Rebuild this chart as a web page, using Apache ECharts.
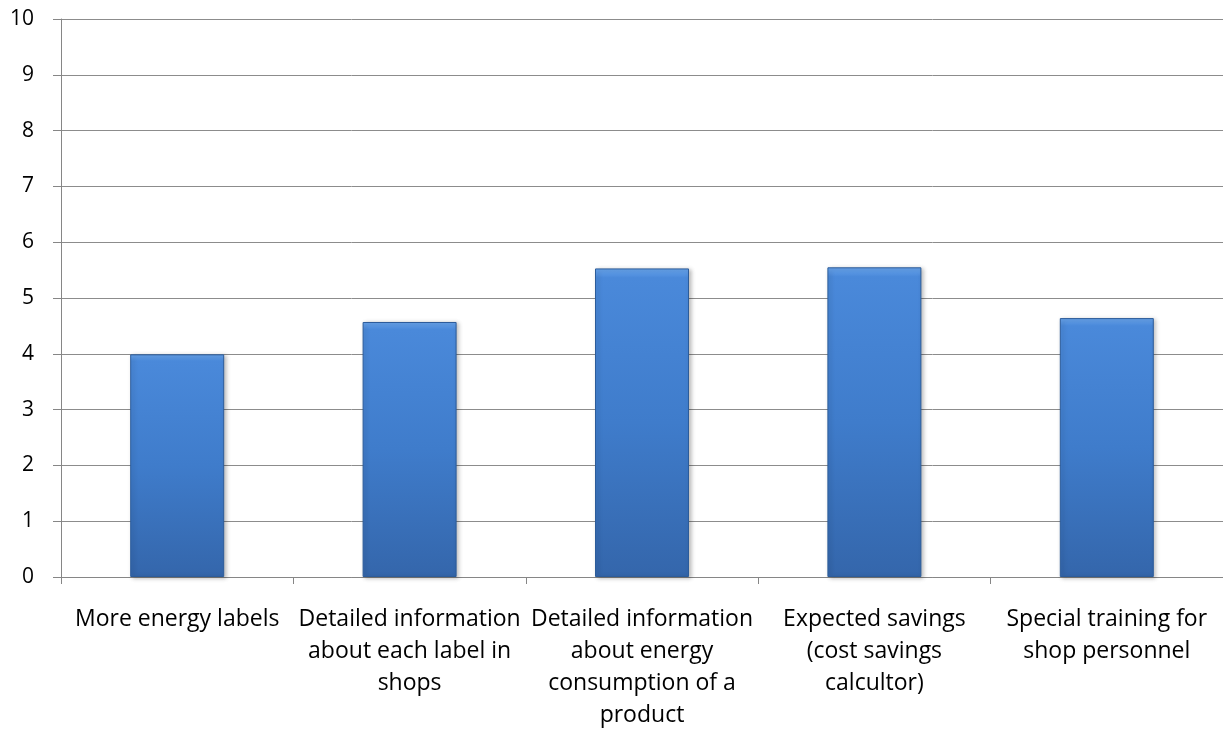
<!DOCTYPE html>
<html><head><meta charset="utf-8">
<script src="https://cdn.jsdelivr.net/npm/echarts@6/dist/echarts.min.js"></script>
<style>html,body{margin:0;padding:0;background:#fff}#c{width:1223px;height:731px}</style>
</head><body><div id="c"></div>
<script>
const categories = [
  "More energy labels",
  "Detailed information\nabout each label in\nshops",
  "Detailed information\nabout energy\nconsumption of a\nproduct",
  "Expected savings\n(cost savings\ncalcultor)",
  "Special training for\nshop personnel"
];
const values = [3.99, 4.57, 5.53, 5.55, 4.64];
const yTicks = [0, 10, 1];

const chart = echarts.init(document.getElementById('c'), null, {renderer: 'canvas'});
const font = '"Open Sans", Lato, sans-serif';
chart.setOption({
  animation: false,
  backgroundColor: '#ffffff',
  grid: {left: 61, right: 0, top: 19, bottom: 152, containLabel: false},
  xAxis: {
    type: 'category',
    data: categories,
    axisLine: {lineStyle: {color: '#868686', width: 1}},
    axisTick: {show: true, length: 7, lineStyle: {color: '#868686'}},
    axisLabel: {interval: 0, color: '#000', fontFamily: font, fontSize: 23, lineHeight: 32, margin: 26}
  },
  yAxis: {
    type: 'value', min: yTicks[0], max: yTicks[1], interval: yTicks[2],
    axisLine: {show: true, lineStyle: {color: '#868686', width: 1}},
    axisTick: {show: true, length: 8, lineStyle: {color: '#868686'}},
    splitLine: {lineStyle: {color: '#8c8c8c', width: 1}},
    axisLabel: {color: '#000', fontFamily: font, fontSize: 21, margin: 27}
  },
  series: [{
    type: 'bar',
    data: values,
    barWidth: 94,
    itemStyle: {
      color: {type: 'linear', x: 0, y: 0, x2: 0, y2: 1, colorStops: [
        {offset: 0, color: '#6aa6ee'},
        {offset: 0.03, color: '#4a89da'},
        {offset: 0.5, color: '#3f7ccb'},
        {offset: 1, color: '#3466ab'}
      ]},
      borderColor: '#2c5c9a',
      borderWidth: 1,
      shadowColor: 'rgba(0,0,0,0.25)',
      shadowBlur: 4,
      shadowOffsetX: 2,
      shadowOffsetY: 1
    }
  }]
});
</script></body></html>
